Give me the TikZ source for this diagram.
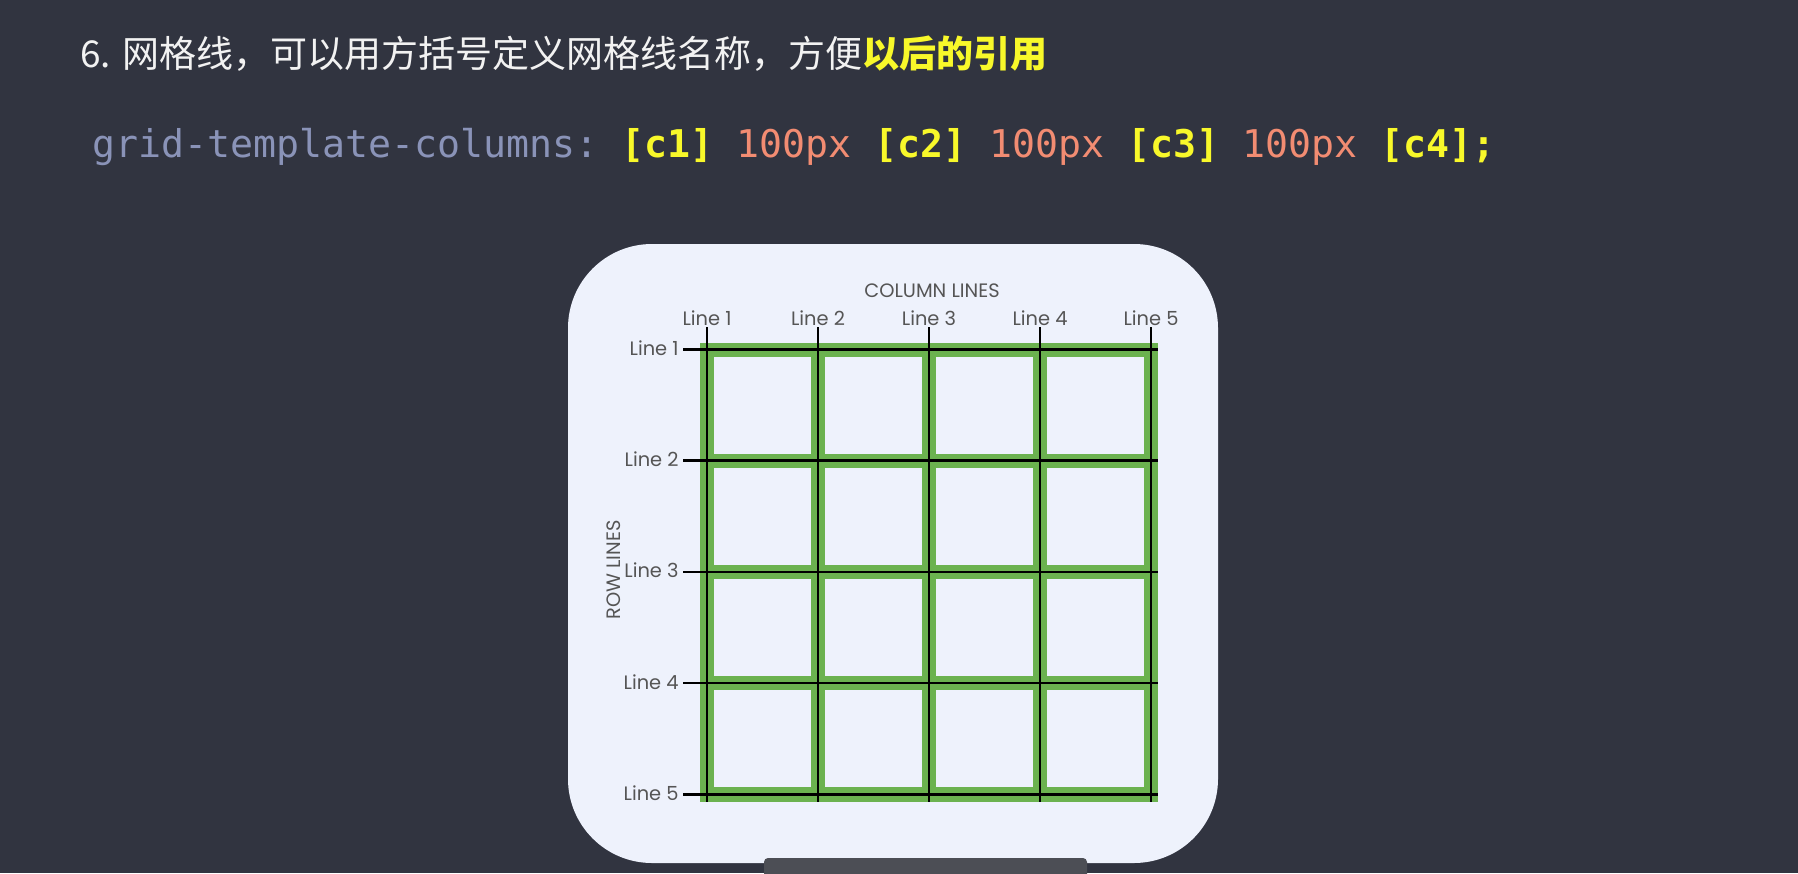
\documentclass[tikz,border=0pt]{standalone}
\usepackage{fontspec}
\setmonofont{DejaVu Sans Mono}
\newfontfamily\cjk{Noto Sans CJK SC}
\newfontfamily\lblfont{Poppins}
\definecolor{slate}{HTML}{313440}
\definecolor{card}{HTML}{EEF2FC}
\definecolor{leaf}{HTML}{6BB24F}
\definecolor{lemon}{HTML}{F8F82A}
\definecolor{salmon}{HTML}{F28C72}
\definecolor{lavender}{HTML}{8A93B8}
\definecolor{ink}{HTML}{555555}
\definecolor{bar}{HTML}{4C4E55}

\begin{document}
\begin{tikzpicture}[x=0.5pt,y=-0.5pt,
  lbl/.style={font=\lblfont\fontsize{9.7}{11}\selectfont,text=ink,inner sep=0pt},
  gridline/.style={black,line width=1.3pt}]
  \fill[slate] (0,0) rectangle (1798,873);
  \useasboundingbox (0,0) rectangle (1798,873);
  % heading and css line
  \node[anchor=west,inner sep=0pt,text=white!95!black,font=\cjk\fontsize{18.5}{22}\selectfont] (title) at (80,54)
       {6. 网格线，可以用方括号定义网格线名称，方便\textcolor{lemon}{\bfseries 以后的引用}};
  \node[anchor=west,inner sep=0pt,font=\ttfamily\fontsize{19.1}{23}\selectfont] (css) at (92,147)
       {\textcolor{lavender}{grid-template-columns:} \textcolor{lemon}{\bfseries[c1]} \textcolor{salmon}{100px}
        \textcolor{lemon}{\bfseries[c2]} \textcolor{salmon}{100px} \textcolor{lemon}{\bfseries[c3]}
        \textcolor{salmon}{100px} \textcolor{lemon}{\bfseries[c4];}};
  % white card
  \fill[card,rounded corners=42pt] (568,244) rectangle (1218,863);
  \fill[bar,rounded corners=2pt] (764,858) rectangle (1087,880);
  % green borders round every cell
  \fill[leaf] (700,343) rectangle (1158,802);
  \foreach \x in {707,818,929,1040}{
    \foreach \y in {349.5,460.7,571.9,683.1}{
      \fill[card] ({\x+7},{\y+7}) rectangle ({\x+104},{\y+104.2});}}
  % column lines
  \node[lbl] (collines) at (932,291) {COLUMN LINES};
  \foreach \n/\x in {1/707,2/818,3/929,4/1040,5/1151}{
    \node[lbl,anchor=base] (col\n) at (\x,325) {Line \n};
    \coordinate (ctop\n) at (\x,327);
    \coordinate (cbot\n) at (\x,802);
    \draw[gridline] (ctop\n) -- (cbot\n);}
  % row lines
  \node[lbl,rotate=90] (rowlines) at (614,570) {ROW LINES};
  \foreach \n/\y in {1/349.5,2/460.7,3/571.9,4/683.1,5/794.3}{
    \node[lbl,anchor=base east] (row\n) at (679,{\y+6}) {Line \n};
    \coordinate (rleft\n) at (683,\y);
    \coordinate (rright\n) at (1158,\y);
    \draw[gridline] (rleft\n) -- (rright\n);}
\end{tikzpicture}
\end{document}
